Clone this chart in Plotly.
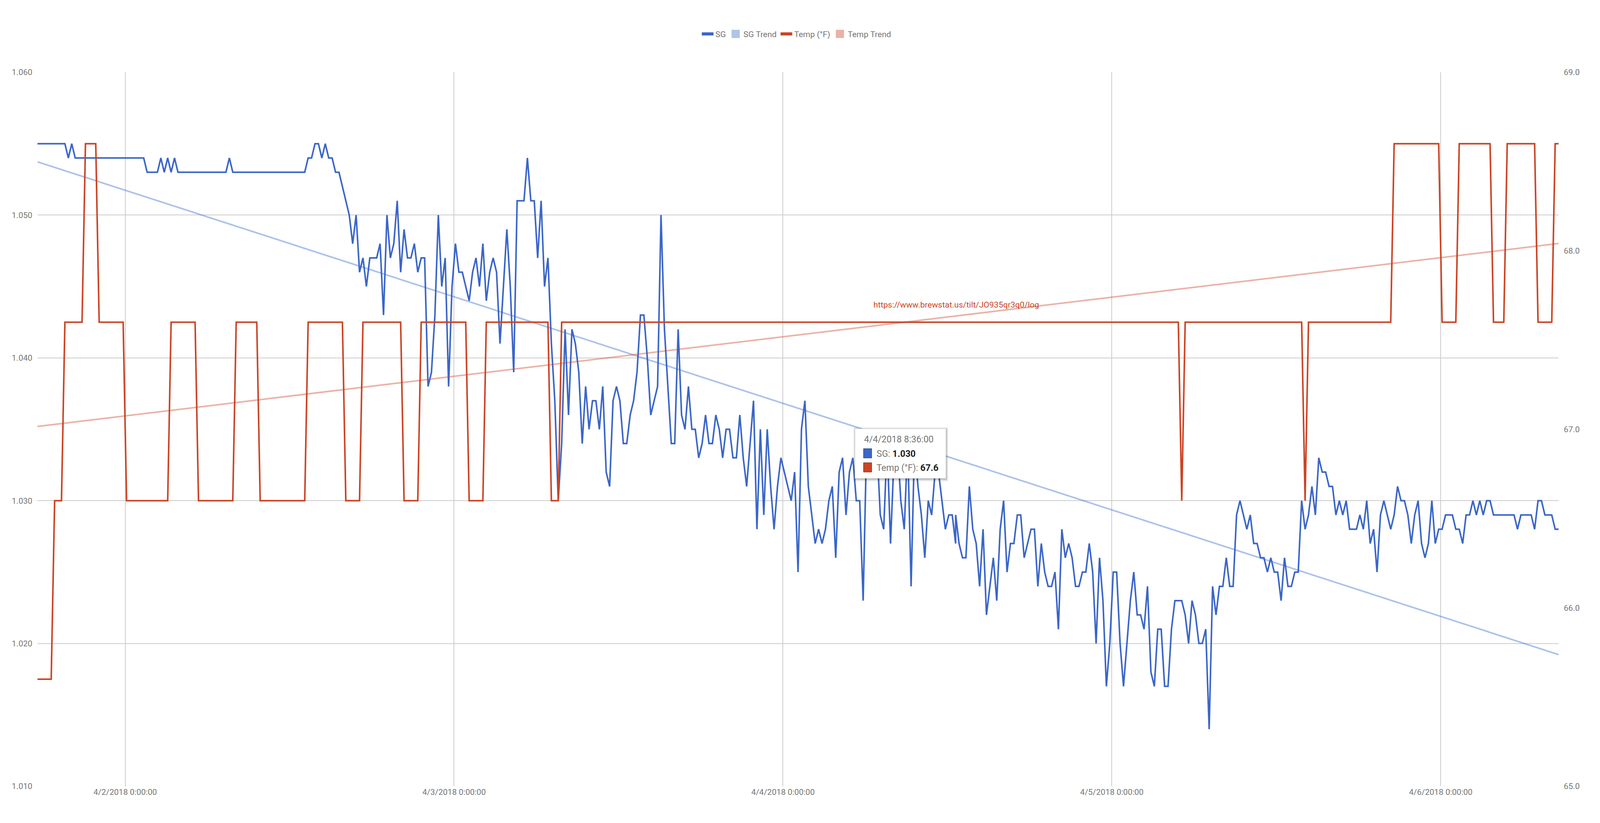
import pandas as pd
import plotly.graph_objects as go

# Tilt log, one sample every 15 minutes. Sample 268 was logged twice.
start_time = '2018-04-01 17:36'
sample_count = 445
repeated_sample = 268

# SG in gravity points, 55 = 1.055
sg_points = [
    55, 55, 55, 55, 55, 55, 55, 55, 55, 54,
    55, 54, 54, 54, 54, 54, 54, 54, 54, 54,
    54, 54, 54, 54, 54, 54, 54, 54, 54, 54,
    54, 54, 53, 53, 53, 53, 54, 53, 54, 53,
    54, 53, 53, 53, 53, 53, 53, 53, 53, 53,
    53, 53, 53, 53, 53, 53, 54, 53, 53, 53,
    53, 53, 53, 53, 53, 53, 53, 53, 53, 53,
    53, 53, 53, 53, 53, 53, 53, 53, 53, 54,
    54, 55, 55, 54, 55, 54, 54, 53, 53, 52,
    51, 50, 48, 50, 46, 47, 45, 47, 47, 47,
    48, 43, 50, 47, 48, 51, 46, 49, 47, 47,
    48, 46, 47, 47, 38, 39, 43, 50, 45, 47,
    38, 45, 48, 46, 46, 45, 44, 46, 47, 45,
    48, 44, 46, 47, 46, 41, 45, 49, 45, 39,
    51, 51, 51, 54, 51, 51, 47, 51, 45, 47,
    41, 37, 30, 34, 42, 36, 42, 41, 39, 34,
    38, 35, 37, 37, 35, 38, 32, 31, 37, 38,
    37, 34, 34, 36, 37, 39, 43, 43, 40, 36,
    37, 38, 50, 42, 38, 34, 34, 42, 36, 35,
    38, 35, 35, 33, 34, 36, 34, 34, 36, 35,
    33, 35, 35, 33, 33, 36, 33, 31, 34, 37,
    28, 35, 29, 35, 31, 28, 31, 33, 32, 31,
    30, 32, 25, 35, 37, 31, 29, 27, 28, 27,
    28, 30, 31, 26, 32, 33, 29, 32, 33, 30,
    30, 23, 34, 33, 32, 34, 29, 28, 34, 27,
    33, 34, 30, 28, 34, 24, 34, 31, 29, 26,
    30, 29, 32, 32, 30, 28, 29, 29, 27, 29,
    27, 26, 26, 31, 28, 27, 24, 28, 22, 24, 26,
    23, 28, 30, 25, 27, 27, 29, 29, 26, 27,
    28, 28, 24, 27, 25, 24, 24, 25, 21, 28,
    26, 27, 26, 24, 24, 25, 25, 27, 25, 20,
    26, 23, 17, 20, 25, 25, 20, 17, 20, 23,
    25, 22, 22, 21, 24, 18, 17, 21, 21, 17,
    17, 21, 23, 23, 23, 22, 20, 23, 22, 20,
    20, 21, 14, 24, 22, 24, 24, 26, 24, 24,
    29, 30, 29, 28, 29, 27, 27, 26, 26, 25,
    26, 25, 25, 23, 26, 24, 24, 25, 25, 30,
    28, 29, 31, 29, 33, 32, 32, 31, 31, 29,
    30, 29, 30, 28, 28, 28, 29, 28, 30, 27,
    28, 25, 29, 30, 29, 28, 29, 31, 30, 30,
    29, 27, 29, 30, 27, 26, 27, 30, 27, 28,
    28, 29, 29, 29, 28, 28, 27, 29, 29, 30,
    29, 30, 29, 30, 30, 29, 29, 29, 29, 29,
    29, 29, 28, 29, 29, 29, 29, 28, 30, 30,
    29, 29, 29, 28, 28,
]

# Temperature only moves in whole steps, so it is typed as runs
temp_f = (
    [65.6] * 5 + [66.6] * 3 + [67.6] * 6 + [68.6] * 4 + [67.6] * 8
    + [66.6] * 13 + [67.6] * 8 + [66.6] * 11 + [67.6] * 7 + [66.6] * 14
    + [67.6] * 11 + [66.6] * 5 + [67.6] * 12 + [66.6] * 5 + [67.6] * 14
    + [66.6] * 5 + [67.6] * 19 + [66.6] * 3 + [67.6] * 182 + [66.6]
    + [67.6] * 35 + [66.6] + [67.6] * 25 + [68.6] * 14 + [67.6] * 5
    + [68.6] * 10 + [67.6] * 4 + [68.6] * 9 + [67.6] * 5 + [68.6] * 2
)

sg_trend = [1.05373, 1.01922]
temp_trend = [67.016, 68.041]

x_tick_dates = ['2018-04-02', '2018-04-03', '2018-04-04', '2018-04-05', '2018-04-06']
x_tick_labels = ['4/2/2018 0:00:00', '4/3/2018 0:00:00', '4/4/2018 0:00:00', '4/5/2018 0:00:00', '4/6/2018 0:00:00']
sg_ticks = [1.010, 1.020, 1.030, 1.040, 1.050, 1.060]
temp_ticks = [65, 66, 67, 68, 69]

tooltip_sample = 252
source_url = 'https://www.brewstat.us/tilt/JO935qr3q0/log'

# The browser window tops out at 4096 wide, so the layout is read in reference
# pixels (4680 wide) and squeezed to fit
REF_W = 4680
W, H = 4096, 2106
SX = W / REF_W
LEFT, RIGHT, TOP, BOTTOM = 110, 4559, 185, 2012

BLUE = '#3b66c8'
RED = '#cb4425'
GRID = '#cccccc'
TEXT = '#757575'
FONT = 'Roboto'
TICK_SIZE = 21


def px_x(x):
    return (x - LEFT) / (RIGHT - LEFT)


def px_y(y):
    return (BOTTOM - y) / (BOTTOM - TOP)


times = list(pd.date_range(start_time, periods=sample_count, freq='15min'))
times.insert(repeated_sample + 1, times[repeated_sample])
sg = [1 + p / 1000 for p in sg_points]
trend_x = [times[0], times[-1]]

fig = go.Figure()

fig.add_trace(go.Scatter(x=times, y=sg, mode='lines', line=dict(color=BLUE, width=4),
                         name='SG', showlegend=False))
fig.add_trace(go.Scatter(x=trend_x, y=sg_trend, mode='lines', line=dict(color='#3366cc', width=4),
                         opacity=0.4, name='SG Trend', showlegend=False))
fig.add_trace(go.Scatter(x=times, y=temp_f, mode='lines', yaxis='y2', line=dict(color=RED, width=4),
                         name='Temp (°F)', showlegend=False))
fig.add_trace(go.Scatter(x=trend_x, y=temp_trend, mode='lines', yaxis='y2', line=dict(color='#cc4125', width=4),
                         opacity=0.4, name='Temp Trend', showlegend=False))

# Legend-only traces, the real chart uses wider swatches than the lines
fig.add_trace(go.Scatter(x=[None], y=[None], mode='lines', line=dict(color=BLUE, width=8), name='SG'))
fig.add_trace(go.Scatter(x=[None], y=[None], mode='markers', name='SG Trend',
                         marker=dict(symbol='square', size=16, color='#b0c3e8', line=dict(color='#b0c3e8', width=5))))
fig.add_trace(go.Scatter(x=[None], y=[None], mode='lines', line=dict(color=RED, width=8), name='Temp (°F)'))
fig.add_trace(go.Scatter(x=[None], y=[None], mode='markers', name='Temp Trend',
                         marker=dict(symbol='square', size=16, color='#e9b2a5', line=dict(color='#e9b2a5', width=5))))

# Tooltip box left open in the screenshot
shapes = []
for grow, alpha in [(6, 0.05), (4, 0.08), (2, 0.12)]:
    shapes.append(dict(type='rect', xref='paper', yref='paper', layer='above', line_width=0,
                       x0=px_x(2501 - grow + 1), x1=px_x(2767 + grow + 1),
                       y0=px_y(1224 + grow + 2), y1=px_y(1097 - grow + 2),
                       fillcolor='rgba(0,0,0,%s)' % alpha))
shapes.append(dict(type='rect', xref='paper', yref='paper', layer='above',
                   x0=px_x(2501), x1=px_x(2767), y0=px_y(1224), y1=px_y(1097),
                   fillcolor='white', line=dict(color='#cccccc', width=1)))
shapes.append(dict(type='rect', xref='paper', yref='paper', layer='above',
                   x0=px_x(2526), x1=px_x(2550), y0=px_y(1172), y1=px_y(1148),
                   fillcolor=BLUE, line=dict(color='#1f3a78', width=1)))
shapes.append(dict(type='rect', xref='paper', yref='paper', layer='above',
                   x0=px_x(2526), x1=px_x(2550), y0=px_y(1208), y1=px_y(1184),
                   fillcolor=RED, line=dict(color='#6e2313', width=1)))

tip_time = times[tooltip_sample]
tip_rows = [
    (2526, 1124, '%d/%d/%d %d:%02d:00' % (tip_time.month, tip_time.day, tip_time.year, tip_time.hour, tip_time.minute)),
    (2563, 1161, 'SG: <span style="color:#222222"><b>%.3f</b></span>' % sg[tooltip_sample]),
    (2563, 1197, 'Temp (°F): <span style="color:#222222"><b>%.1f</b></span>' % temp_f[tooltip_sample]),
]
annotations = [dict(xref='paper', yref='paper', x=px_x(px), y=px_y(py), text=txt, showarrow=False,
                    xanchor='left', yanchor='middle', borderpad=0,
                    font=dict(family=FONT, size=23, color=TEXT)) for px, py, txt in tip_rows]
annotations.append(dict(xref='paper', yref='paper', x=px_x(2554), y=px_y(780), text=source_url, showarrow=False,
                        xanchor='left', yanchor='middle', borderpad=0,
                        font=dict(family=FONT, size=TICK_SIZE, color=RED)))

fig.update_layout(
    width=W,
    height=H,
    autosize=False,
    margin=dict(l=LEFT * SX, r=(REF_W - RIGHT) * SX, t=TOP, b=H - BOTTOM, pad=0, autoexpand=False),
    plot_bgcolor='white',
    paper_bgcolor='white',
    font=dict(family=FONT, size=TICK_SIZE, color=TEXT),
    hovermode='x',
    shapes=shapes,
    annotations=annotations,
    legend=dict(
        orientation='h',
        x=px_x(2330),
        xanchor='center',
        y=px_y(87),
        yanchor='middle',
        font=dict(family=FONT, size=TICK_SIZE, color=TEXT),
        itemwidth=30,
        bgcolor='rgba(0,0,0,0)',
    ),
    xaxis=dict(
        type='date',
        range=[times[0], times[-1]],
        tickvals=x_tick_dates,
        ticktext=x_tick_labels,
        showgrid=True,
        gridcolor=GRID,
        gridwidth=2,
        zeroline=False,
        showline=False,
        ticks='',
        tickangle=0,
        tickfont=dict(family=FONT, size=TICK_SIZE, color=TEXT),
    ),
    yaxis=dict(
        range=[1.010, 1.060],
        tickvals=sg_ticks,
        tickformat='.3f',
        showgrid=True,
        gridcolor=GRID,
        gridwidth=2,
        zeroline=False,
        showline=False,
        ticks='outside',
        ticklen=8,
        tickcolor='rgba(0,0,0,0)',
        tickfont=dict(family=FONT, size=TICK_SIZE, color=TEXT),
    ),
    yaxis2=dict(
        range=[65, 69],
        tickvals=temp_ticks,
        tickformat='.1f',
        overlaying='y',
        side='right',
        showgrid=False,
        zeroline=False,
        showline=False,
        ticks='outside',
        ticklen=8,
        tickcolor='rgba(0,0,0,0)',
        tickfont=dict(family=FONT, size=TICK_SIZE, color=TEXT),
    ),
)

fig.write_html('out.html', config={'displayModeBar': False},
               post_script="document.body.style.margin='0';")
